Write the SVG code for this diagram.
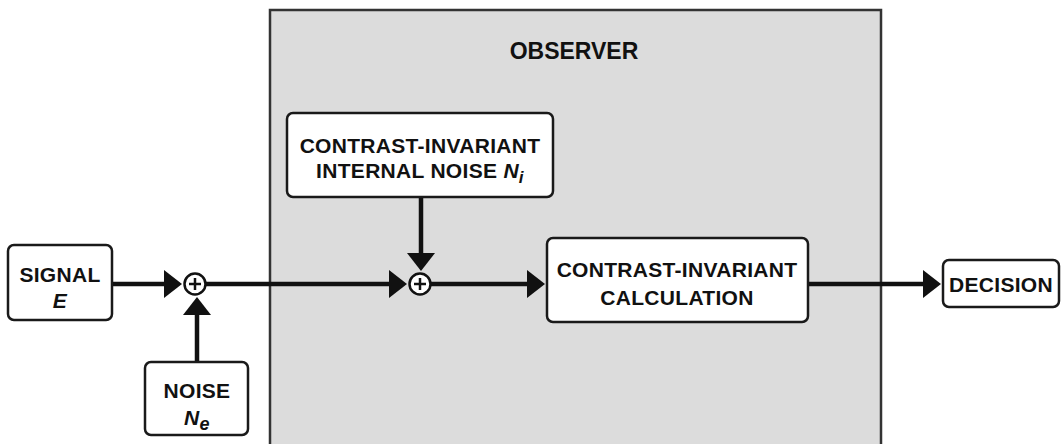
<svg xmlns="http://www.w3.org/2000/svg" width="1063" height="444" viewBox="0 0 1063 444">
<style>
.box{fill:#fff;stroke:#1a1a1a;stroke-width:2.5}
.t{font-family:"Liberation Sans",Arial,sans-serif;font-weight:bold;font-size:21px;letter-spacing:0.3px;fill:#111;text-anchor:middle}
.c{stroke:#111;stroke-width:4.5;fill:none}
.sum{fill:#fff;stroke:#111;stroke-width:2.5}
.plus{stroke:#111;stroke-width:2.5}
</style>
<defs>
<marker id="ah" viewBox="0 0 18 28" refX="10" refY="14" markerWidth="18" markerHeight="28" markerUnits="userSpaceOnUse" orient="auto">
<path d="M0,0 L18,14 L0,28 z" fill="#111"/>
</marker>
</defs>
<g id="observer">
<rect x="270" y="10" width="611" height="440" fill="#dcdcdc" stroke="#333" stroke-width="2.5"/>
<text class="t" x="574" y="59" style="font-size:23px;letter-spacing:0">OBSERVER</text>
</g>
<g id="connectors">
<line class="c" x1="112" y1="284" x2="174" y2="284" marker-end="url(#ah)"/>
<line class="c" x1="197" y1="362" x2="197" y2="305" marker-end="url(#ah)"/>
<line class="c" x1="206" y1="284" x2="399" y2="284" marker-end="url(#ah)"/>
<line class="c" x1="421" y1="197" x2="421" y2="263" marker-end="url(#ah)"/>
<line class="c" x1="431" y1="284" x2="537" y2="284" marker-end="url(#ah)"/>
<line class="c" x1="808" y1="284" x2="933" y2="284" marker-end="url(#ah)"/>
</g>
<g id="sum1">
<circle class="sum" cx="195" cy="284" r="10.5"/>
<line class="plus" x1="189" y1="284" x2="201" y2="284"/>
<line class="plus" x1="195" y1="278" x2="195" y2="290"/>
</g>
<g id="sum2">
<circle class="sum" cx="420" cy="284" r="10.5"/>
<line class="plus" x1="414" y1="284" x2="426" y2="284"/>
<line class="plus" x1="420" y1="278" x2="420" y2="290"/>
</g>
<g id="signal">
<rect class="box" x="8" y="245" width="104" height="75" rx="6"/>
<text class="t" x="60" y="282">SIGNAL</text>
<text class="t" x="60" y="308" font-style="italic">E</text>
</g>
<g id="noise">
<rect class="box" x="145" y="362" width="103" height="73" rx="6"/>
<text class="t" x="197" y="398">NOISE</text>
<text class="t" x="197" y="425"><tspan font-style="italic">N</tspan><tspan font-style="italic" font-size="18" dy="5">e</tspan></text>
</g>
<g id="internal-noise">
<rect class="box" x="287" y="113" width="266" height="84" rx="6"/>
<text class="t" x="420" y="153">CONTRAST-INVARIANT</text>
<text class="t" x="420" y="178">INTERNAL NOISE <tspan font-style="italic">N</tspan><tspan font-style="italic" font-size="17" dy="5">i</tspan></text>
</g>
<g id="calculation">
<rect class="box" x="547" y="238" width="261" height="84" rx="6"/>
<text class="t" x="677" y="277">CONTRAST-INVARIANT</text>
<text class="t" x="677" y="305">CALCULATION</text>
</g>
<g id="decision">
<rect class="box" x="943" y="260" width="116" height="47" rx="6"/>
<text class="t" x="1001" y="292">DECISION</text>
</g>
</svg>
